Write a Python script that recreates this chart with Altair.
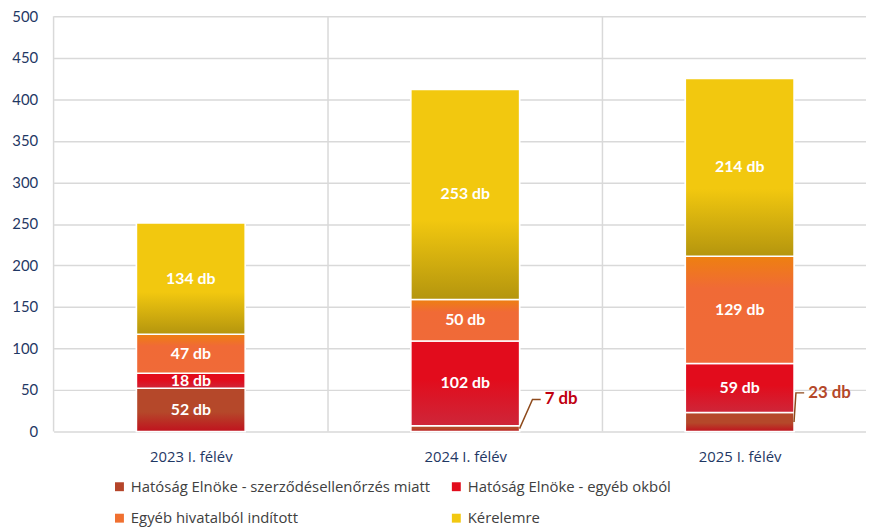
import json
import pandas as pd
import altair as alt

# ---------------- data ----------------
CATEGORIES = ["2023 I. félév", "2024 I. félév", "2025 I. félév"]
SERIES = [
    "Hatóság Elnöke - szerződésellenőrzés miatt",
    "Hatóság Elnöke - egyéb okból",
    "Egyéb hivatalból indított",
    "Kérelemre",
]
SZERZODES = [52, 7, 23]
EGYEB_OKBOL = [18, 102, 59]
HIVATALBOL = [47, 50, 129]
KERELEMRE = [134, 253, 214]
Y_TICKS = [0, 50, 100, 150, 200, 250, 300, 350, 400, 450, 500]
SERIES_VALUES = [SZERZODES, EGYEB_OKBOL, HIVATALBOL, KERELEMRE]

# ---------------- styles ----------------
FONT = "Lato"
TEXT_FONT = "Open Sans"
AXIS_COLOR = "#1F3864"
GRID_COLOR = "#D9D9D9"
LEGEND_COLORS = ["#B5452A", "#E20C1C", "#F07030", "#F2C811"]
GRADIENTS = [
    [("#B5482A", 0.0), ("#B5482A", 0.55), ("#C0121E", 1.0)],
    [("#E20C1C", 0.0), ("#E20C1C", 0.45), ("#CE2639", 1.0)],
    [("#EE8010", 0.0), ("#F06A36", 0.3), ("#F06A38", 1.0)],
    [("#F2C80F", 0.0), ("#F2C80F", 0.62), ("#B4950E", 1.0)],
]
OUTSIDE_COLORS = {"2024 I. félév": "#C00010", "2025 I. félév": "#B5482A"}
LEADER_DX = {"2024 I. félév": 0.047, "2025 I. félév": 0.007}
HALF_BAR = 0.198
ELBOW_UP = 35
ELBOW_LEN = 0.03
PLOT_W, PLOT_H = 820, 419
X_MAX = -0.5 + PLOT_W / 277

rows = []
for s_i, (name, vals) in enumerate(zip(SERIES, SERIES_VALUES)):
    for c_i, (cat, v) in enumerate(zip(CATEGORIES, vals)):
        rows.append({"category": cat, "idx": c_i, "series": name, "order": s_i,
                     "value": v, "label": f"{v} db"})
df = pd.DataFrame(rows)

# outside labels: smallest bottom segments
outside = df[(df["order"] == 0) & (df["value"] < 30)].copy()
lead_rows = []
out_rows = []
for _, r in outside.iterrows():
    x0 = r["idx"] + HALF_BAR
    x1 = x0 + LEADER_DX[r["category"]]
    x2 = x1 + ELBOW_LEN
    y0 = r["value"] / 2
    y1 = y0 + ELBOW_UP
    for k, (xx, yy) in enumerate([(x0, y0), (x1, y1), (x2, y1)]):
        lead_rows.append({"category": r["category"], "k": k, "lx": xx, "ly": yy})
    out_rows.append({"category": r["category"], "label": r["label"], "tx": x2, "ty": y1})
lead_df = pd.DataFrame(lead_rows)
out_df = pd.DataFrame(out_rows)
bounds_df = pd.DataFrame({"b": [i - 0.5 for i in range(len(CATEGORIES))]})

X_AXIS = alt.Axis(values=list(range(len(CATEGORIES))),
                  labelExpr=f"{json.dumps(CATEGORIES, ensure_ascii=False)}[datum.value]",
                  grid=False, ticks=False, domain=False, title=None,
                  labelFont=TEXT_FONT, labelFontSize=15, labelColor=AXIS_COLOR, labelPadding=18)
Y_AXIS = alt.Axis(values=Y_TICKS, grid=True, gridColor=GRID_COLOR, gridWidth=1.5,
                  ticks=False, domain=False, title=None,
                  labelFont=FONT, labelFontSize=15, labelColor=AXIS_COLOR, labelPadding=16)
X_SCALE = alt.Scale(domain=[-0.5, X_MAX], nice=False, zero=False)
Y_SCALE = alt.Scale(domain=[0, 500], nice=False)

base = alt.Chart(df).transform_stack(
    stack="value", groupby=["idx"], as_=["y0", "y1"],
    sort=[alt.SortField("order", order="ascending")]
).transform_calculate(
    xl=f"datum.idx - {HALF_BAR}", xr=f"datum.idx + {HALF_BAR}",
    mid="(datum.y0 + datum.y1) / 2",
    outside="datum.order == 0 && datum.value < 30",
)

vgrid = alt.Chart(bounds_df).mark_rule(color=GRID_COLOR, strokeWidth=1.5).encode(
    x=alt.X("b:Q", scale=X_SCALE, axis=X_AXIS),
)

legend_bars = base.mark_bar(stroke="white", strokeWidth=1.5).encode(
    x=alt.X("xl:Q", scale=X_SCALE, axis=X_AXIS),
    x2="xr:Q",
    y=alt.Y("y0:Q", scale=Y_SCALE, axis=Y_AXIS),
    y2="y1:Q",
    color=alt.Color("series:N", scale=alt.Scale(domain=SERIES, range=LEGEND_COLORS),
                    legend=alt.Legend(orient="none", legendX=59, legendY=467, columns=2,
                                      direction="horizontal",
                                      title=None, symbolType="square", symbolSize=81,
                                      symbolStrokeWidth=0, labelFont=TEXT_FONT, labelFontSize=15,
                                      labelColor="#404040", labelLimit=500, labelOffset=4,
                                      columnPadding=18, rowPadding=16)),
)

grad_layers = []
for s_i, stops in enumerate(GRADIENTS):
    g = alt.Gradient(gradient="linear", x1=0, y1=0, x2=0, y2=1,
                     stops=[alt.GradientStop(color=c, offset=o) for c, o in stops])
    grad_layers.append(
        base.transform_filter(f"datum.order == {s_i}").mark_bar(
            fill=g, stroke="white", strokeWidth=1.5
        ).encode(
            x=alt.X("xl:Q", scale=X_SCALE, axis=X_AXIS), x2="xr:Q",
            y=alt.Y("y0:Q", scale=Y_SCALE, axis=Y_AXIS), y2="y1:Q",
        )
    )

inside_text = base.transform_filter("!datum.outside").mark_text(
    font=FONT, fontSize=16, fontWeight="bold", color="white", baseline="middle"
).encode(
    x=alt.X("idx:Q", scale=X_SCALE, axis=X_AXIS),
    y=alt.Y("mid:Q", scale=Y_SCALE, axis=Y_AXIS),
    text="label:N",
)

leaders = alt.Chart(lead_df).mark_line(color="#8E4A1C", strokeWidth=1.5).encode(
    x=alt.X("lx:Q", scale=X_SCALE, axis=X_AXIS),
    y=alt.Y("ly:Q", scale=Y_SCALE, axis=Y_AXIS),
    detail="category:N",
    order="k:Q",
)

out_text = alt.Chart(out_df).mark_text(
    font=FONT, fontSize=17, fontWeight="bold", align="left", baseline="middle", dx=4
).encode(
    x=alt.X("tx:Q", scale=X_SCALE, axis=X_AXIS),
    y=alt.Y("ty:Q", scale=Y_SCALE, axis=Y_AXIS),
    text="label:N",
    color=alt.Color("category:N",
                    scale=alt.Scale(domain=list(OUTSIDE_COLORS.keys()),
                                    range=list(OUTSIDE_COLORS.values())),
                    legend=None),
)

chart = alt.layer(vgrid, legend_bars, *grad_layers, inside_text, leaders, out_text).resolve_scale(
    color="independent"
).properties(
    width=PLOT_W, height=PLOT_H,
    autosize=alt.AutoSizeParams(type="none"),
    padding={"left": 46, "top": 6, "right": 0, "bottom": 97},
    background="white",
).configure_view(stroke=None)

chart.save("out.html", embed_options={"renderer": "svg", "actions": False})
